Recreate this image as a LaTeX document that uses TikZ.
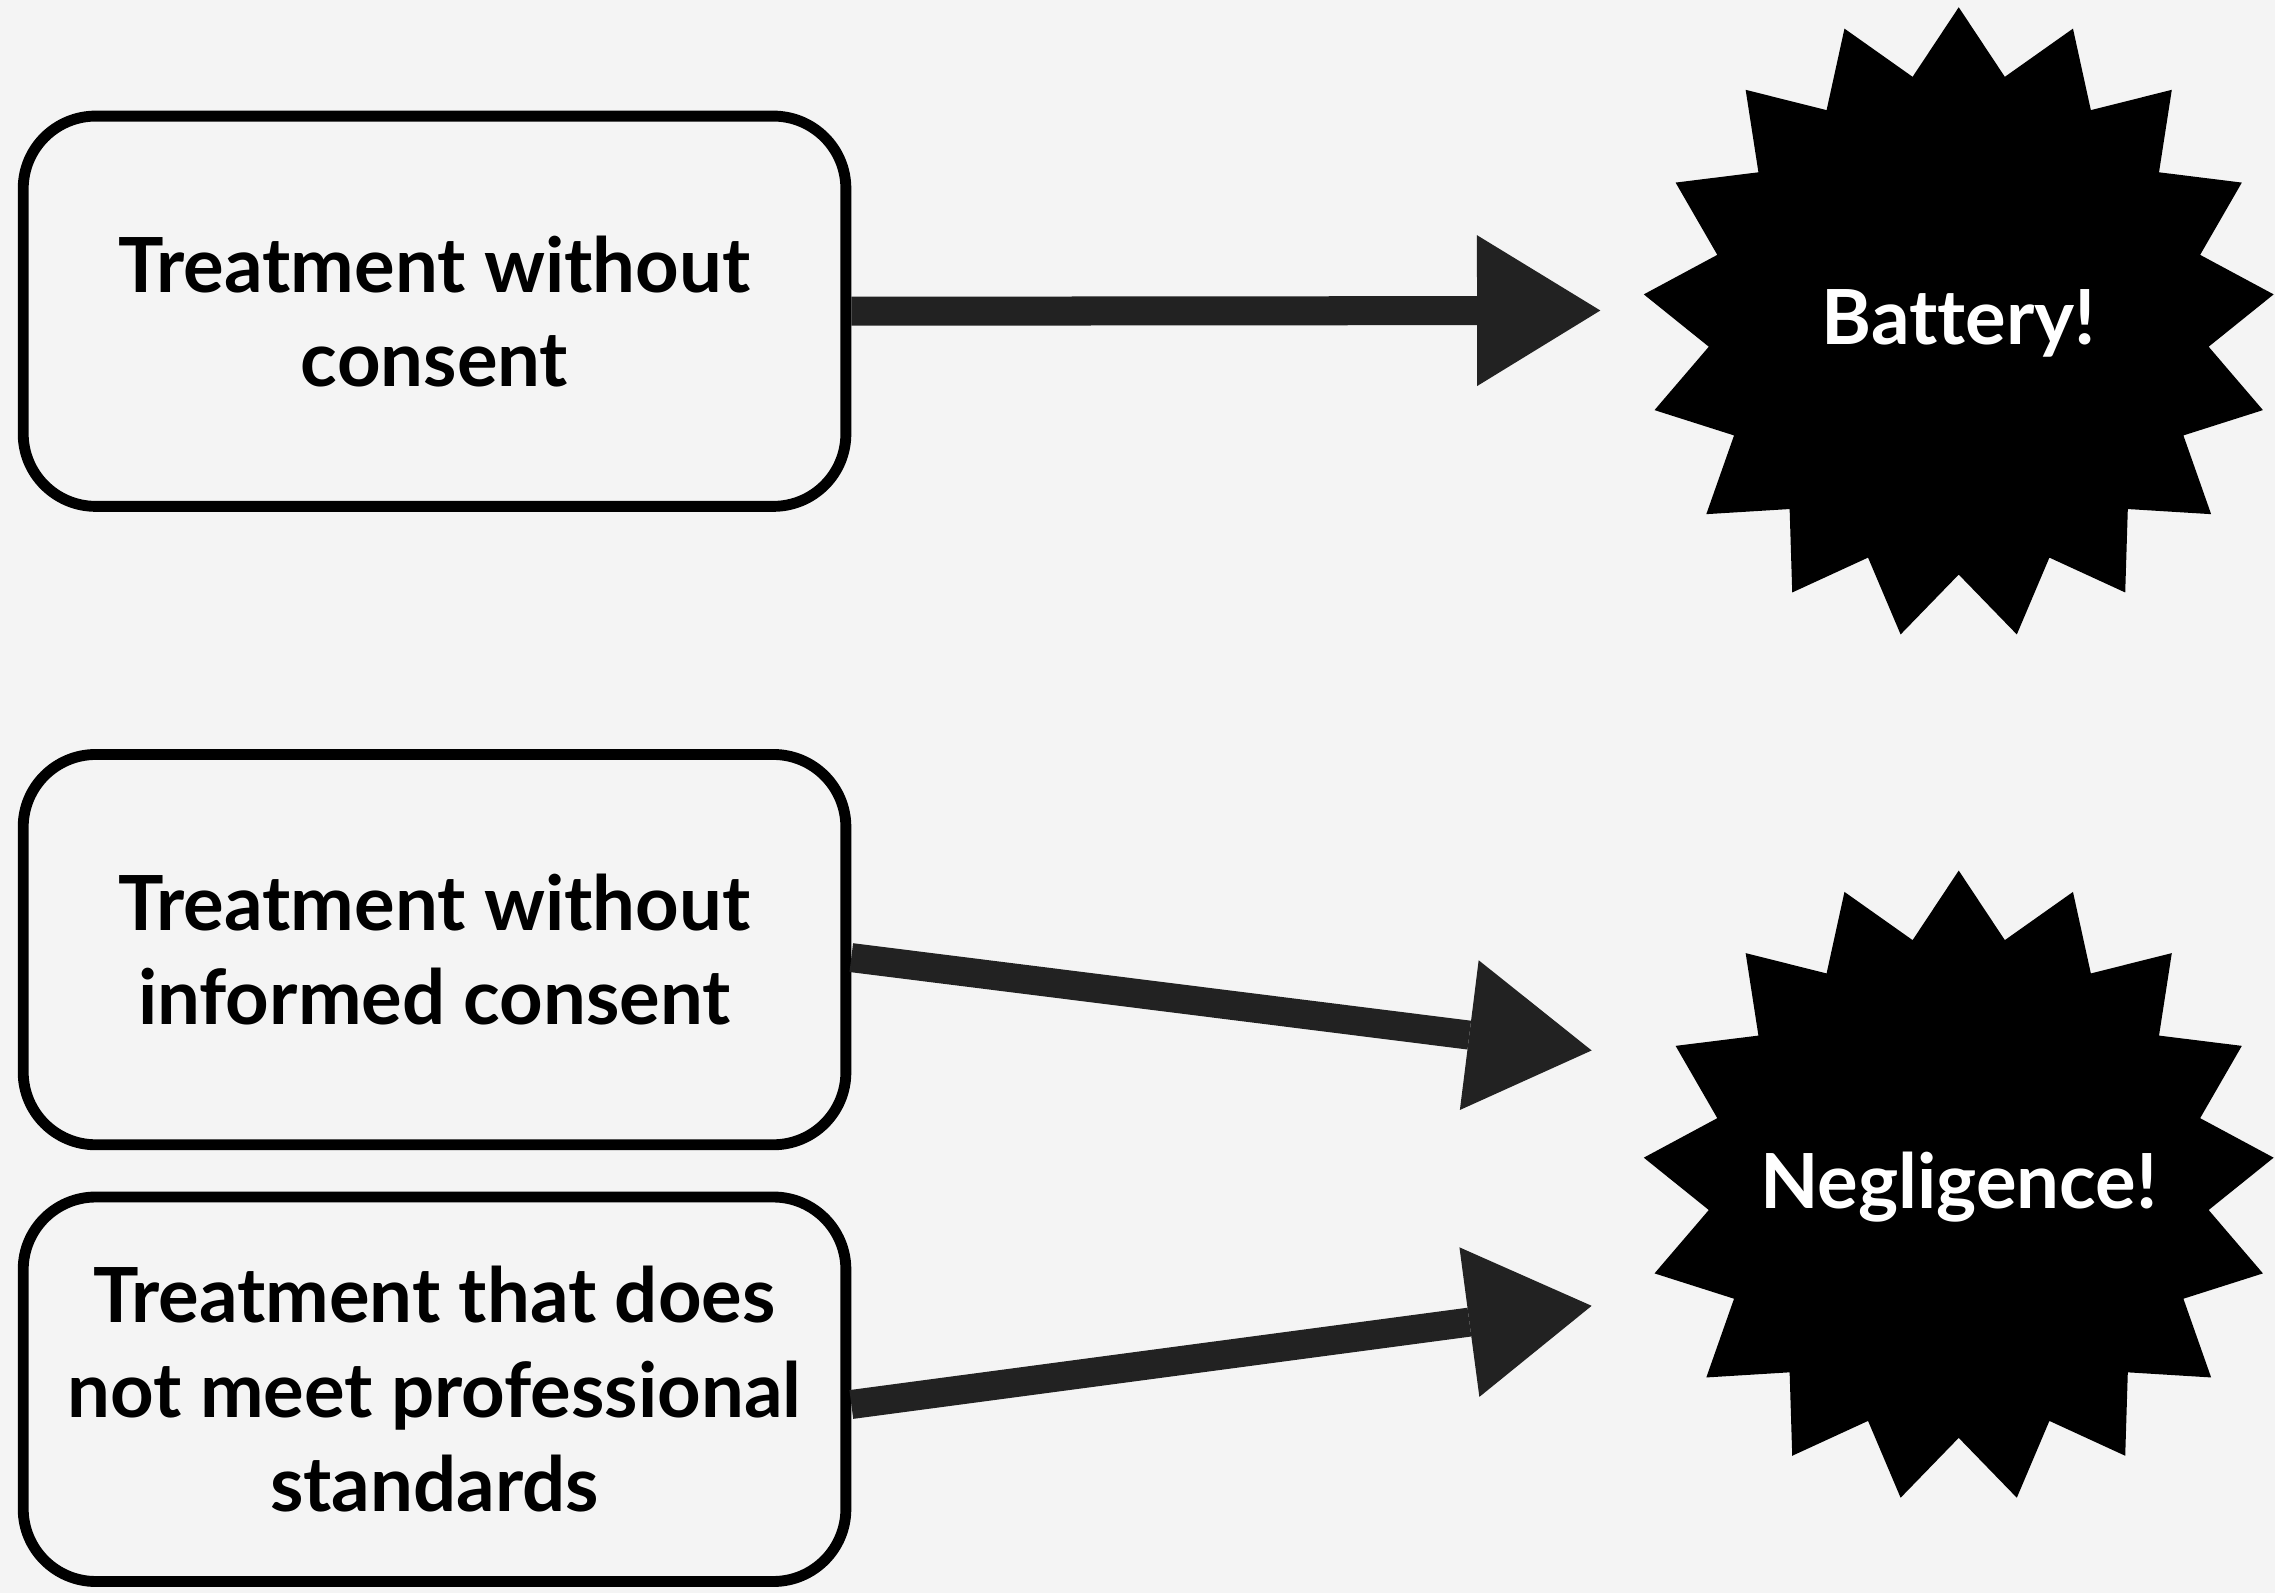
\documentclass[tikz,border=0pt]{standalone}
\usepackage{fontspec}
\setmainfont{Lato}[Ligatures=NoCommon]
\usetikzlibrary{arrows.meta,calc}
\definecolor{bg}{HTML}{F4F4F4}
\definecolor{arr}{HTML}{222222}
\begin{document}
\begin{tikzpicture}[x=0.5pt,y=-0.5pt,
  box/.style={draw=black, line width=3.75pt, rounded corners=25pt, fill=bg,
    minimum width=283.5pt, inner sep=0pt, align=center,
    font=\fontsize{26.2}{32.5}\selectfont\bfseries},
  startext/.style={text=white, inner sep=0pt,
    font=\fontsize{26.2}{32.5}\selectfont\bfseries},
  conn/.style={draw=arr, line width=10pt,
    -{Triangle[length=42.5pt,width=52pt,line width=0pt]}},
  burst/.style={fill=black}
]
\fill[bg] (0,0) rectangle (1568,1098);
\useasboundingbox (0,0) rectangle (1568,1098);

% boxes
\node[box, minimum height=134.5pt] (b1) at (299.5,214.5) {Treatment without\\consent};
\node[box, minimum height=134.5pt] (b2) at (299.5,654.5) {Treatment without\\informed consent};
\node[box, minimum height=132.5pt] (b3) at (299.5,957.5) {Treatment that does\\not meet professional\\standards};

% starbursts
\coordinate (c1) at (1350,223);
\coordinate (c2) at (1350,818);
\fill[burst] ($(c1)+(90:109pt)$) \foreach \k in {0,...,16} {
  -- ($(c1)+({90+(\k+0.5)*360/17}:86.5pt)$) -- ($(c1)+({90+(\k+1)*360/17}:109pt)$) } -- cycle;
\fill[burst] ($(c2)+(90:109pt)$) \foreach \k in {0,...,16} {
  -- ($(c2)+({90+(\k+0.5)*360/17}:86.5pt)$) -- ($(c2)+({90+(\k+1)*360/17}:109pt)$) } -- cycle;
\node[startext] (bat) at (c1) {Battery!};
\node[startext] (neg) at (c2) {Negligence!};

% arrow tips
\coordinate (t1) at (1103,214);
\coordinate (t2) at (1097,724);
\coordinate (t3) at (1097,900);

\draw[conn] (b1.east) -- (t1);
\draw[conn] ([yshift=-2.75pt]b2.east) -- (t2);
\draw[conn] ([yshift=-5.25pt]b3.east) -- (t3);
\end{tikzpicture}
\end{document}
